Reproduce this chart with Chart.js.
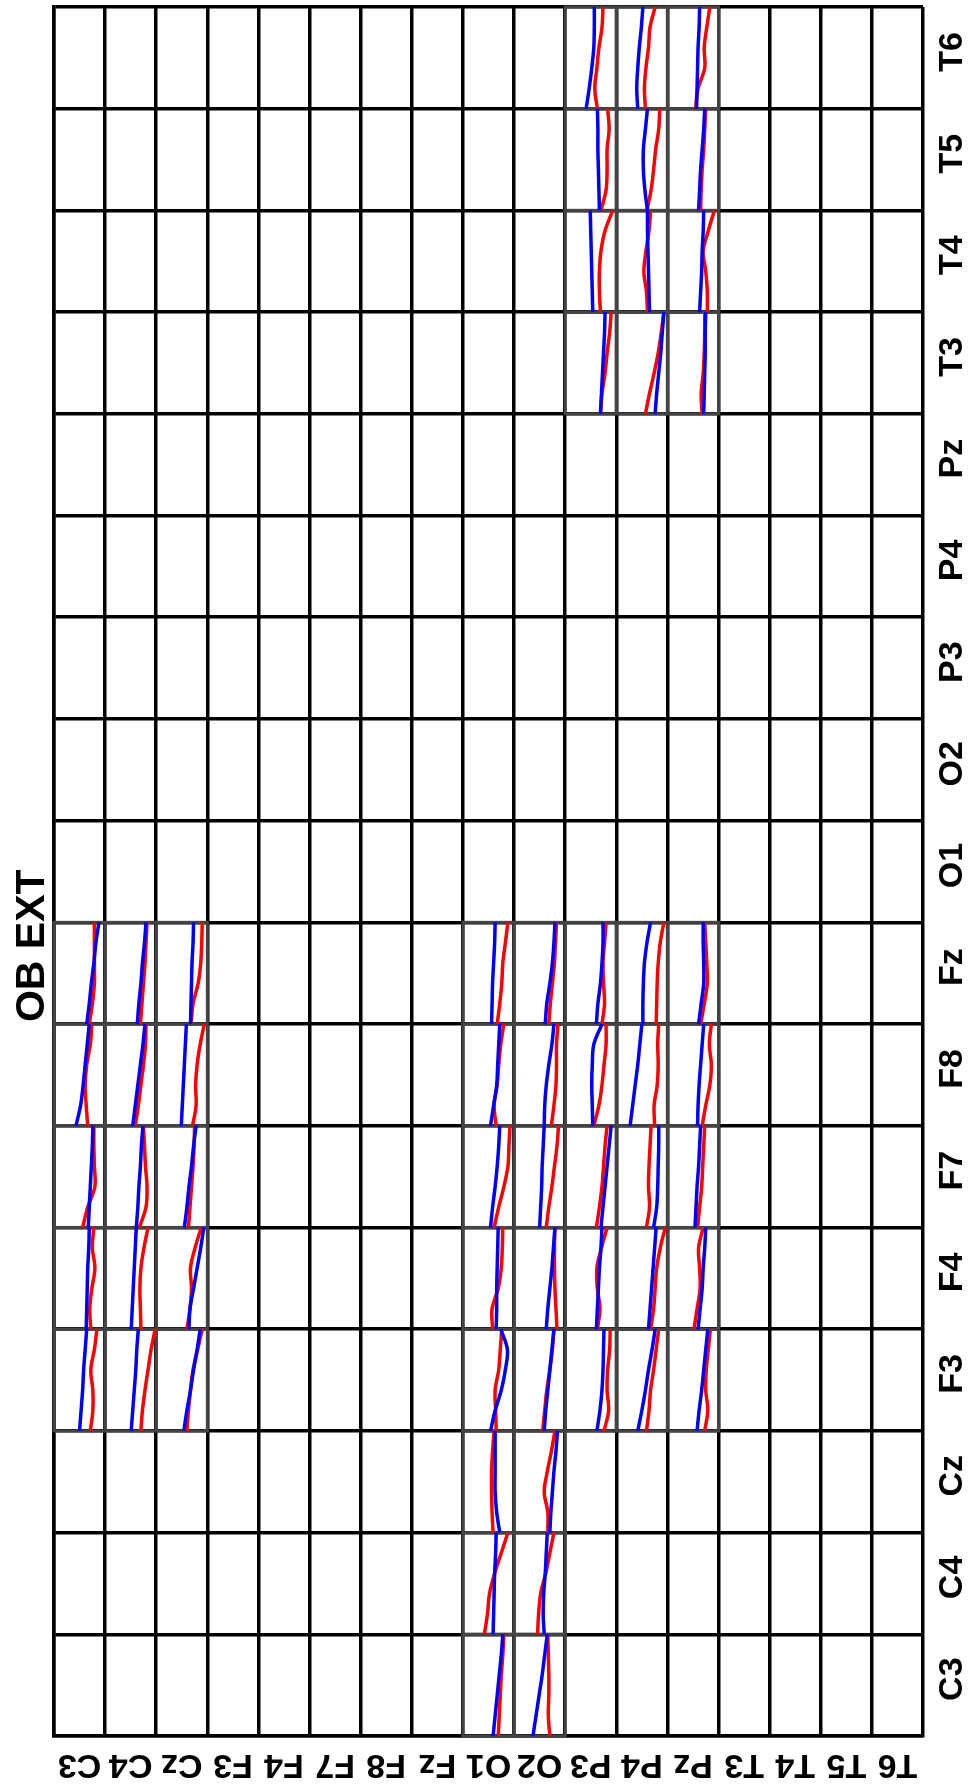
<!DOCTYPE html>
<html>
<head>
<meta charset="utf-8">
<script src="https://cdn.jsdelivr.net/npm/chart.js@4/dist/chart.umd.min.js"></script>
<style>
  html, body { margin: 0; padding: 0; background: #fff; }
  #wrap { width: 972px; height: 1789px; }
</style>
</head>
<body>
<div id="wrap"><canvas id="c" width="972" height="1789"></canvas></div>
<script>
// ---- data ----
const chartTitle = 'OB EXT';
// channel order: image columns left->right and image rows bottom->top
const channels = ['C3','C4','Cz','F3','F4','F7','F8','Fz','O1','O2','P3','P4','Pz','T3','T4','T5','T6'];

// cells that hold traces: first channel = column, second channel = row
const pairCol = [
  'C3','C4','Cz','C3','C4','Cz','C3','C4','Cz','C3','C4','Cz','C3','C4','Cz',
  'O1','O2','O1','O2','O1','O2','O1','O2','O1','O2','O1','O2','O1','O2','O1','O2',
  'P3','P4','Pz','P3','P4','Pz','P3','P4','Pz','P3','P4','Pz','P3','P4','Pz',
  'P3','P4','Pz','P3','P4','Pz','P3','P4','Pz','P3','P4','Pz'
];
const pairRow = [
  'Fz','Fz','Fz','F8','F8','F8','F7','F7','F7','F4','F4','F4','F3','F3','F3',
  'Fz','Fz','F8','F8','F7','F7','F4','F4','F3','F3','Cz','Cz','C4','C4','C3','C3',
  'Fz','Fz','Fz','F8','F8','F8','F7','F7','F7','F4','F4','F4','F3','F3','F3',
  'T6','T6','T6','T5','T5','T5','T4','T4','T4','T3','T3','T3'
];

// trace values (0..1 across the cell), six samples from cell bottom to cell top
const blueTraces = [
  [.64,.69,.73,.78,.82,.88],[.63,.66,.70,.73,.77,.80],[.67,.68,.69,.70,.72,.73],
  [.43,.52,.57,.61,.65,.69],[.54,.59,.64,.69,.74,.78],[.49,.51,.53,.55,.57,.59],
  [.67,.69,.71,.73,.75,.76],[.61,.64,.66,.69,.71,.74],[.55,.60,.64,.69,.73,.78],
  [.63,.64,.65,.66,.68,.69],[.51,.53,.55,.57,.59,.61],[.64,.66,.73,.80,.87,.93],
  [.50,.53,.56,.58,.61,.64],[.51,.54,.57,.60,.62,.65],[.54,.60,.67,.73,.80,.86],

  [.56,.57,.58,.60,.62,.63],[.61,.64,.70,.75,.78,.80],
  [.54,.60,.66,.68,.70,.72],[.59,.60,.63,.68,.74,.78],
  [.54,.58,.63,.67,.70,.72],[.50,.52,.54,.55,.57,.59],
  [.65,.66,.66,.67,.68,.69],[.63,.66,.70,.74,.77,.80],
  [.54,.63,.75,.83,.87,.74],[.59,.62,.66,.70,.74,.78],
  [.72,.66,.63,.63,.63,.63],[.70,.72,.75,.78,.82,.85],
  [.59,.60,.61,.62,.64,.65],[.59,.57,.58,.61,.63,.65],
  [.59,.63,.67,.71,.75,.78],[.37,.43,.49,.55,.60,.65],

  [.61,.64,.69,.72,.74,.74],[.52,.52,.53,.55,.60,.67],[.61,.66,.71,.71,.70,.70],
  [.54,.53,.52,.53,.56,.72],[.27,.32,.37,.42,.46,.50],[.59,.60,.62,.65,.68,.71],
  [.70,.74,.78,.82,.86,.90],[.73,.79,.81,.82,.83,.83],[.54,.56,.58,.61,.63,.65],
  [.61,.63,.65,.67,.70,.72],[.63,.66,.69,.72,.75,.78],[.60,.64,.68,.70,.73,.75],
  [.62,.68,.72,.74,.75,.76],[.42,.50,.57,.63,.70,.76],[.58,.62,.67,.71,.75,.79],

  [.41,.47,.52,.56,.57,.57],[.42,.40,.42,.45,.49,.52],[.57,.58,.59,.60,.62,.63],
  [.67,.66,.65,.64,.64,.63],[.61,.56,.53,.53,.57,.61],[.61,.63,.65,.68,.71,.73],
  [.54,.53,.52,.51,.50,.49],[.65,.64,.63,.62,.61,.61],[.63,.65,.67,.68,.70,.71],
  [.69,.71,.73,.75,.77,.78],[.76,.79,.83,.87,.90,.93],[.71,.72,.73,.74,.74,.75]
];
const redTraces = [
  [.69,.75,.79,.79,.79,.79],[.69,.72,.75,.78,.80,.82],[.68,.72,.82,.87,.89,.90],
  [.66,.63,.61,.64,.71,.74],[.59,.65,.70,.75,.79,.80],[.71,.78,.77,.80,.86,.94],
  [.56,.66,.80,.79,.78,.78],[.67,.80,.82,.79,.77,.75],[.63,.66,.69,.72,.74,.75],
  [.72,.70,.74,.80,.75,.78],[.70,.69,.68,.70,.76,.84],[.60,.66,.69,.67,.76,.88],
  [.71,.76,.76,.72,.79,.84],[.70,.73,.78,.84,.90,.98],[.60,.63,.67,.72,.81,.90],

  [.67,.72,.76,.78,.83,.88],[.68,.71,.75,.79,.81,.83],
  [.65,.61,.67,.70,.74,.80],[.73,.78,.82,.83,.83,.86],
  [.61,.70,.80,.88,.90,.92],[.63,.68,.74,.79,.84,.87],
  [.58,.57,.69,.75,.77,.78],[.84,.82,.80,.79,.79,.80],
  [.65,.64,.63,.70,.73,.76],[.56,.60,.64,.70,.75,.78],
  [.59,.57,.56,.56,.58,.61],[.66,.66,.59,.65,.73,.80],
  [.42,.48,.52,.62,.75,.88],[.46,.48,.52,.62,.70,.78],
  [.69,.71,.73,.75,.78,.80],[.70,.67,.68,.68,.67,.66],

  [.72,.77,.75,.74,.77,.80],[.78,.79,.80,.82,.86,.93],[.65,.72,.78,.77,.75,.73],
  [.56,.66,.72,.76,.80,.80],[.75,.74,.80,.82,.81,.83],[.68,.75,.83,.86,.82,.86],
  [.61,.67,.72,.75,.78,.82],[.59,.65,.63,.64,.66,.68],[.59,.63,.67,.69,.71,.73],
  [.63,.68,.63,.62,.71,.82],[.67,.73,.76,.79,.86,.96],[.52,.58,.64,.63,.61,.70],
  [.76,.85,.82,.83,.87,.88],[.59,.64,.67,.73,.78,.83],[.73,.79,.75,.76,.80,.84],

  [.63,.58,.62,.66,.72,.74],[.57,.55,.58,.63,.66,.76],[.55,.60,.73,.72,.77,.83],
  [.70,.80,.82,.82,.86,.83],[.60,.68,.73,.77,.83,.85],[.65,.66,.68,.71,.73,.75],
  [.69,.67,.67,.70,.78,.93],[.61,.59,.54,.58,.64,.67],[.78,.78,.75,.70,.80,.92],
  [.69,.72,.78,.82,.87,.90],[.57,.65,.74,.82,.88,.93],[.68,.66,.70,.72,.73,.73]
];

// ---- build datasets ----
const idx = name => channels.indexOf(name);
function tracePoints(col, row, values) {
  const a = idx(col), b = idx(row), n = values.length;
  return values.map((v, k) => ({ x: a + v, y: b + k / (n - 1) }));
}
const datasets = [];
pairCol.forEach((col, i) => {
  const row = pairRow[i];
  datasets.push({
    label: 'blue ' + col + '-' + row,
    data: tracePoints(col, row, blueTraces[i]),
    borderColor: '#0000ff', borderWidth: 3.5, pointRadius: 0, tension: 0.35,
    showLine: true, order: 0
  });
  datasets.push({
    label: 'red ' + col + '-' + row,
    data: tracePoints(col, row, redTraces[i]),
    borderColor: '#ff0000', borderWidth: 3.5, pointRadius: 0, tension: 0.35,
    showLine: true, order: 1
  });
});

const FONT = '"Liberation Sans", Arial, Helvetica, sans-serif';

const labelsPlugin = {
  id: 'matrixLabels',
  beforeDatasetsDraw(chart) {
    const { ctx, scales: { x, y } } = chart;
    ctx.save();
    ctx.strokeStyle = '#444';
    ctx.lineWidth = 3;
    pairCol.forEach((col, i) => {
      const a = idx(col), b = idx(pairRow[i]);
      const x0 = x.getPixelForValue(a), x1 = x.getPixelForValue(a + 1);
      const y0 = y.getPixelForValue(b + 1), y1 = y.getPixelForValue(b);
      ctx.strokeRect(x0, y0, x1 - x0, y1 - y0);
    });
    ctx.restore();
  },
  afterDraw(chart) {
    const { ctx, scales: { x, y } } = chart;
    ctx.save();
    ctx.fillStyle = '#000';
    ctx.font = 'bold 34px ' + FONT;
    ctx.textAlign = 'center';
    ctx.textBaseline = 'alphabetic';
    // bottom labels, upside down
    channels.forEach((ch, i) => {
      ctx.save();
      ctx.translate(x.getPixelForValue(i + 0.5), y.bottom + 19);
      ctx.rotate(Math.PI);
      ctx.fillText(ch, 0, 0);
      ctx.restore();
    });
    // right labels, reading upward
    channels.forEach((ch, i) => {
      ctx.save();
      ctx.translate(x.right + 39, y.getPixelForValue(i + 0.5) - 6);
      ctx.rotate(-Math.PI / 2);
      ctx.fillText(ch, 0, 0);
      ctx.restore();
    });
    // title on the left
    ctx.save();
    ctx.font = 'bold 41px ' + FONT;
    ctx.translate(x.left - 10, y.getPixelForValue(7.77));
    ctx.rotate(-Math.PI / 2);
    ctx.fillText(chartTitle, 0, 0);
    ctx.restore();
    ctx.restore();
  }
};

const cellTicks = scale => {
  scale.ticks = channels.map((_, i) => ({ value: i })).concat([{ value: channels.length }]);
};

new Chart(document.getElementById('c'), {
  type: 'scatter',
  data: { datasets },
  options: {
    responsive: false,
    devicePixelRatio: 1,
    animation: false,
    layout: { padding: { left: 54, right: 49, top: 7, bottom: 53 } },
    plugins: { legend: { display: false }, tooltip: { enabled: false }, title: { display: false } },
    scales: {
      x: {
        type: 'linear', min: 0, max: channels.length,
        afterBuildTicks: cellTicks,
        ticks: { display: false },
        grid: { color: '#000', lineWidth: 3.5, drawTicks: false },
        border: { display: true, color: '#000', width: 3.5 }
      },
      y: {
        type: 'linear', min: 0, max: channels.length,
        afterBuildTicks: cellTicks,
        ticks: { display: false },
        grid: { color: '#000', lineWidth: 3.5, drawTicks: false },
        border: { display: true, color: '#000', width: 3.5 }
      }
    }
  },
  plugins: [labelsPlugin]
});
</script>
</body>
</html>
